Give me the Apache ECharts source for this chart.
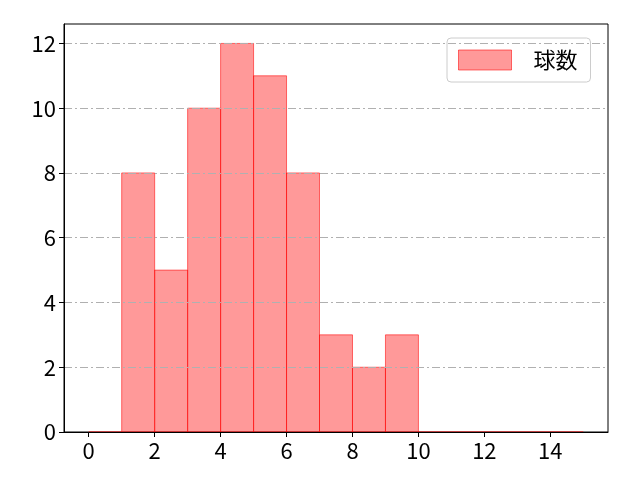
<!DOCTYPE html>
<html>
<head>
<meta charset="utf-8">
<script src="https://cdn.jsdelivr.net/npm/echarts@6/dist/echarts.min.js"></script>
<style>html,body{margin:0;padding:0;background:#fff}#c{width:640px;height:480px}</style>
</head>
<body>
<div id="c"></div>
<script>
const binEdges = [0,1,2,3,4,5,6,7,8,9,10,11,12,13,14,15];
const counts = [0,8,5,10,12,11,8,3,2,3,0,0,0,0,0];
const xTicks = [0,2,4,6,8,10,12,14];
const yTicks = [0,2,4,6,8,10,12];
const seriesName = '球数';

const data = counts.map((c, i) => [binEdges[i], binEdges[i+1], c]);
const FONT = '"Noto Sans CJK JP", "Noto Sans", sans-serif';
const FILL = 'rgba(255,0,0,0.4)';
const EDGE = 'rgba(255,0,0,0.55)';

const chart = echarts.init(document.getElementById('c'));
chart.setOption({
  animation: false,
  backgroundColor: '#fff',
  grid: {left: 64, right: 32, top: 24, bottom: 48, show: true, borderColor: '#000', borderWidth: 1, backgroundColor: 'transparent'},
  legend: {
    left: 447, top: 38,
    padding: [11, 13, 11, 11],
    backgroundColor: '#fff',
    borderColor: '#ccc', borderWidth: 1, borderRadius: 4,
    itemWidth: 53, itemHeight: 20,
    textStyle: {fontSize: 22, fontFamily: FONT, color: '#000', padding: [0, 0, 0, 17]},
    data: [{name: seriesName, icon: 'rect', itemStyle: {color: FILL, borderColor: EDGE, borderWidth: 1}}]
  },
  xAxis: {
    type: 'value', min: -0.75, max: 15.75, z: 10,
    axisLine: {show: true, onZero: false, lineStyle: {color: '#000', width: 1}},
    axisTick: {show: true, length: 5, lineStyle: {color: '#000'}, customValues: xTicks},
    axisLabel: {fontSize: 22, fontFamily: FONT, color: '#000', margin: 8, customValues: xTicks},
    splitLine: {show: false}
  },
  yAxis: {
    type: 'value', min: 0, max: 12.6, interval: 2, z: 10,
    axisLine: {show: true, onZero: false, lineStyle: {color: '#000', width: 1}},
    axisTick: {show: true, length: 5, lineStyle: {color: '#000'}, customValues: yTicks},
    axisLabel: {fontSize: 22, fontFamily: FONT, color: '#000', margin: 8, customValues: yTicks},
    splitLine: {show: true, showMinLine: false, showMaxLine: true, lineStyle: {color: '#b0b0b0', width: 1, type: [8, 3, 2, 3]}}
  },
  series: [{
    name: seriesName,
    type: 'custom',
    itemStyle: {color: FILL, borderColor: EDGE, borderWidth: 1},
    encode: {x: [0, 1], y: 2},
    data: data,
    renderItem: function (params, api) {
      const p0 = api.coord([api.value(0), api.value(2)]);
      const p1 = api.coord([api.value(1), 0]);
      return {
        type: 'rect',
        shape: {x: p0[0], y: p0[1], width: p1[0] - p0[0], height: p1[1] - p0[1]},
        style: {fill: FILL, stroke: EDGE, lineWidth: 1}
      };
    }
  }]
});
</script>
</body>
</html>
